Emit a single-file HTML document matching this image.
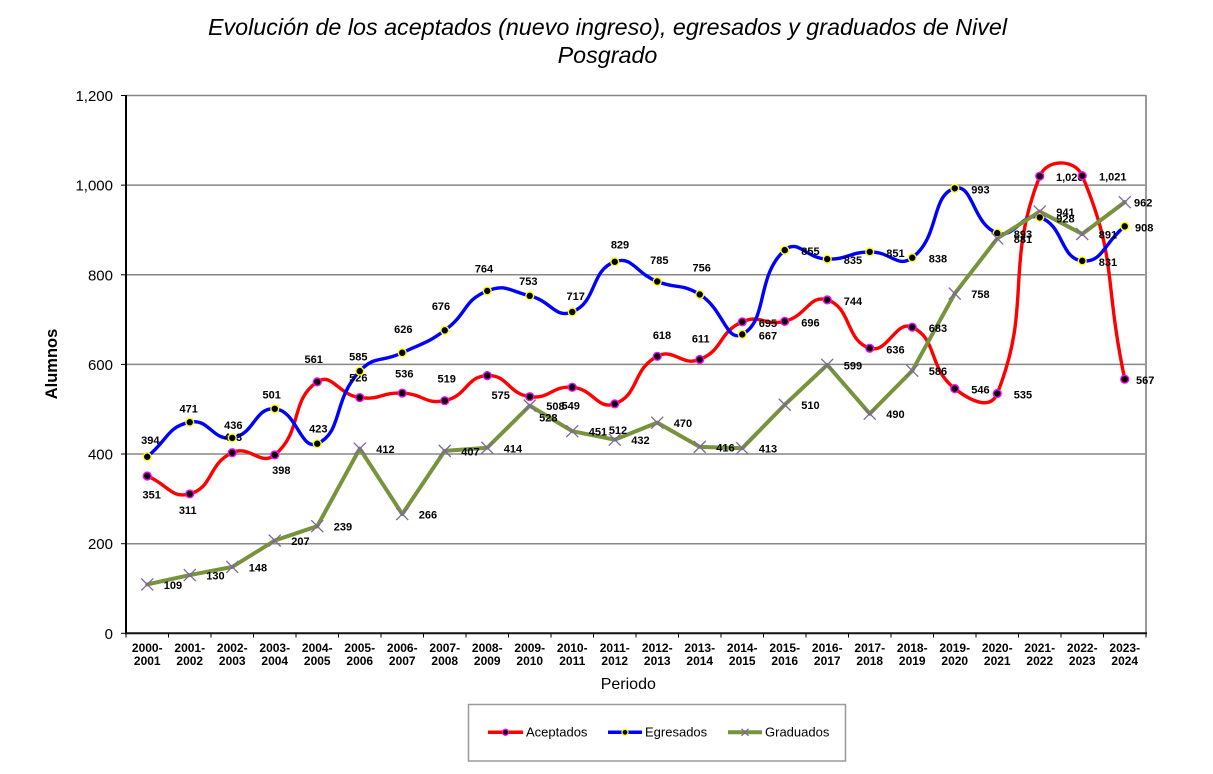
<!DOCTYPE html>
<html>
<head>
<meta charset="utf-8">
<style>
  html,body{margin:0;padding:0;background:#fff;}
  svg{display:block;}
  .lbl{font-family:"Liberation Sans",Arial,sans-serif;font-size:11px;font-weight:bold;fill:#000;}
  .cat{font-family:"Liberation Sans",Arial,sans-serif;font-size:12px;font-weight:bold;fill:#000;}
  .ytk{font-family:"Liberation Sans",Arial,sans-serif;font-size:15px;fill:#000;}
</style>
</head>
<body>
<svg width="1213" height="774" viewBox="0 0 1213 774" xmlns="http://www.w3.org/2000/svg">
  <defs>
    <marker id="mR" markerWidth="12" markerHeight="12" refX="6" refY="6" markerUnits="userSpaceOnUse" overflow="visible">
      <circle cx="6" cy="6" r="3.9" fill="#000" stroke="#ff00ff" stroke-width="1.4"/>
    </marker>
    <marker id="mB" markerWidth="12" markerHeight="12" refX="6" refY="6" markerUnits="userSpaceOnUse" overflow="visible">
      <circle cx="6" cy="6" r="3.9" fill="#000" stroke="#ffff00" stroke-width="1.4"/>
    </marker>
    <marker id="mG" markerWidth="14" markerHeight="14" refX="7" refY="7" markerUnits="userSpaceOnUse" overflow="visible">
      <path d="M1,1 L13,13 M13,1 L1,13" stroke="#8064a2" stroke-width="1.3" fill="none"/>
    </marker>
  </defs>

  <!-- Title -->
  <g font-family="Liberation Sans, Arial, sans-serif" font-style="italic" font-size="23.3" fill="#000" text-anchor="middle">
    <text x="607.5" y="35">Evolución de los aceptados (nuevo ingreso), egresados y graduados de Nivel</text>
    <text x="607.5" y="63">Posgrado</text>
  </g>

  <!-- Gridlines -->
  <g stroke="#878787" stroke-width="1.5">
    <line x1="126" y1="95.5" x2="1146" y2="95.5"/>
    <line x1="126" y1="185.15" x2="1146" y2="185.15"/>
    <line x1="126" y1="274.8" x2="1146" y2="274.8"/>
    <line x1="126" y1="364.4" x2="1146" y2="364.4"/>
    <line x1="126" y1="454.0" x2="1146" y2="454.0"/>
    <line x1="126" y1="543.7" x2="1146" y2="543.7"/>
  </g>
  <line x1="1146" y1="95" x2="1146" y2="634" stroke="#9a9a9a" stroke-width="2"/>

  <!-- Y ticks -->
  <g stroke="#000" stroke-width="1">
    <line x1="121" y1="95.5" x2="126" y2="95.5"/>
    <line x1="121" y1="185.15" x2="126" y2="185.15"/>
    <line x1="121" y1="274.8" x2="126" y2="274.8"/>
    <line x1="121" y1="364.4" x2="126" y2="364.4"/>
    <line x1="121" y1="454.0" x2="126" y2="454.0"/>
    <line x1="121" y1="543.7" x2="126" y2="543.7"/>
    <line x1="121" y1="633.3" x2="126" y2="633.3"/>
  </g>
  <!-- X ticks -->
  <g stroke="#000" stroke-width="1">
    <line x1="126" y1="633" x2="126" y2="637.5"/>
    <line x1="168.5" y1="633" x2="168.5" y2="637.5"/>
    <line x1="211" y1="633" x2="211" y2="637.5"/>
    <line x1="253.5" y1="633" x2="253.5" y2="637.5"/>
    <line x1="296" y1="633" x2="296" y2="637.5"/>
    <line x1="338.5" y1="633" x2="338.5" y2="637.5"/>
    <line x1="381" y1="633" x2="381" y2="637.5"/>
    <line x1="423.5" y1="633" x2="423.5" y2="637.5"/>
    <line x1="466" y1="633" x2="466" y2="637.5"/>
    <line x1="508.5" y1="633" x2="508.5" y2="637.5"/>
    <line x1="551" y1="633" x2="551" y2="637.5"/>
    <line x1="593.5" y1="633" x2="593.5" y2="637.5"/>
    <line x1="636" y1="633" x2="636" y2="637.5"/>
    <line x1="678.5" y1="633" x2="678.5" y2="637.5"/>
    <line x1="721" y1="633" x2="721" y2="637.5"/>
    <line x1="763.5" y1="633" x2="763.5" y2="637.5"/>
    <line x1="806" y1="633" x2="806" y2="637.5"/>
    <line x1="848.5" y1="633" x2="848.5" y2="637.5"/>
    <line x1="891" y1="633" x2="891" y2="637.5"/>
    <line x1="933.5" y1="633" x2="933.5" y2="637.5"/>
    <line x1="976" y1="633" x2="976" y2="637.5"/>
    <line x1="1018.5" y1="633" x2="1018.5" y2="637.5"/>
    <line x1="1061" y1="633" x2="1061" y2="637.5"/>
    <line x1="1103.5" y1="633" x2="1103.5" y2="637.5"/>
    <line x1="1146" y1="633" x2="1146" y2="637.5"/>
  </g>
  <!-- Axes -->
  <line x1="126" y1="95" x2="126" y2="634.3" stroke="#000" stroke-width="2"/>
  <line x1="125" y1="633.3" x2="1147" y2="633.3" stroke="#111" stroke-width="2"/>

  <!-- Y labels -->
  <g class="ytk" text-anchor="end">
    <text x="113" y="101">1,200</text>
    <text x="113" y="190.6">1,000</text>
    <text x="113" y="280.3">800</text>
    <text x="113" y="369.9">600</text>
    <text x="113" y="459.5">400</text>
    <text x="113" y="549.2">200</text>
    <text x="113" y="638.8">0</text>
  </g>

  <!-- Axis titles -->
  <text x="0" y="0" transform="translate(57,364) rotate(-90)" text-anchor="middle" font-family="Liberation Sans, Arial, sans-serif" font-weight="bold" font-size="16.5">Alumnos</text>
  <text x="628.3" y="689" text-anchor="middle" font-family="Liberation Sans, Arial, sans-serif" font-size="16">Periodo</text>

  <!-- Category labels -->
  <g class="cat" text-anchor="middle">
    <text x="147.25" y="652">2000-</text><text x="147.25" y="665">2001</text>
    <text x="189.75" y="652">2001-</text><text x="189.75" y="665">2002</text>
    <text x="232.25" y="652">2002-</text><text x="232.25" y="665">2003</text>
    <text x="274.75" y="652">2003-</text><text x="274.75" y="665">2004</text>
    <text x="317.25" y="652">2004-</text><text x="317.25" y="665">2005</text>
    <text x="359.75" y="652">2005-</text><text x="359.75" y="665">2006</text>
    <text x="402.25" y="652">2006-</text><text x="402.25" y="665">2007</text>
    <text x="444.75" y="652">2007-</text><text x="444.75" y="665">2008</text>
    <text x="487.25" y="652">2008-</text><text x="487.25" y="665">2009</text>
    <text x="529.75" y="652">2009-</text><text x="529.75" y="665">2010</text>
    <text x="572.25" y="652">2010-</text><text x="572.25" y="665">2011</text>
    <text x="614.75" y="652">2011-</text><text x="614.75" y="665">2012</text>
    <text x="657.25" y="652">2012-</text><text x="657.25" y="665">2013</text>
    <text x="699.75" y="652">2013-</text><text x="699.75" y="665">2014</text>
    <text x="742.25" y="652">2014-</text><text x="742.25" y="665">2015</text>
    <text x="784.75" y="652">2015-</text><text x="784.75" y="665">2016</text>
    <text x="827.25" y="652">2016-</text><text x="827.25" y="665">2017</text>
    <text x="869.75" y="652">2017-</text><text x="869.75" y="665">2018</text>
    <text x="912.25" y="652">2018-</text><text x="912.25" y="665">2019</text>
    <text x="954.75" y="652">2019-</text><text x="954.75" y="665">2020</text>
    <text x="997.25" y="652">2020-</text><text x="997.25" y="665">2021</text>
    <text x="1039.75" y="652">2021-</text><text x="1039.75" y="665">2022</text>
    <text x="1082.25" y="652">2022-</text><text x="1082.25" y="665">2023</text>
    <text x="1124.75" y="652">2023-</text><text x="1124.75" y="665">2024</text>
  </g>

  <!-- Series lines -->
  <path id="redLine" fill="none" stroke="#ff0000" stroke-width="3.4" stroke-linejoin="round" stroke-linecap="round"
    d="M147.25,475.99 L189.75,493.92 L232.25,452.69 L274.75,454.93 L317.25,381.88 L359.75,397.56 L402.25,393.08 L444.75,400.70 L487.25,375.60 L529.75,396.67 L572.25,387.25 L614.75,403.84 L657.25,356.33 L699.75,359.47 L742.25,321.82 L784.75,321.37 L827.25,299.86 L869.75,348.26 L912.25,327.20 L954.75,388.60 L997.25,393.53 L1039.75,176.17 L1082.25,175.72 L1124.75,379.19"/>
  <path id="blueLine" fill="none" stroke="#0000ff" stroke-width="3.4" stroke-linejoin="round" stroke-linecap="round"
    d="M147.25,456.72 L189.75,422.21 L232.25,437.90 L274.75,408.77 L317.25,443.72 L359.75,371.12 L402.25,352.75 L444.75,330.34 L487.25,290.90 L529.75,295.83 L572.25,311.96 L614.75,261.77 L657.25,281.49 L699.75,294.48 L742.25,334.37 L784.75,250.11 L827.25,259.08 L869.75,251.91 L912.25,257.73 L954.75,188.27 L997.25,233.08 L1039.75,217.40 L1082.25,260.87 L1124.75,226.36"/>
  <path id="greenLine" fill="none" stroke="#77933c" stroke-width="4" stroke-linejoin="round" stroke-linecap="round"
    d="M147.25,584.45 L189.75,575.04 L232.25,566.97 L274.75,540.53 L317.25,526.19 L359.75,448.65 L402.25,514.09 L444.75,450.89 L487.25,447.76 L529.75,405.63 L572.25,431.18 L614.75,439.69 L657.25,422.66 L699.75,446.86 L742.25,448.21 L784.75,404.73 L827.25,364.85 L869.75,413.70 L912.25,370.67 L954.75,293.59 L997.25,238.46 L1039.75,211.57 L1082.25,233.98 L1124.75,202.16"/>

  <!-- Data labels: Aceptados -->
  <g class="lbl" text-anchor="middle">
    <text x="151.7" y="498.3">351</text>
    <text x="187.7" y="514">311</text>
    <text x="233" y="441">403</text>
    <text x="281.3" y="474">398</text>
    <text x="313.7" y="363">561</text>
    <text x="358.3" y="381.3">526</text>
    <text x="404.3" y="377.3">536</text>
    <text x="446.7" y="382.3">519</text>
    <text x="500.7" y="399">575</text>
    <text x="548.3" y="421.3">528</text>
    <text x="570.7" y="409.7">549</text>
    <text x="618" y="434">512</text>
    <text x="662" y="339">618</text>
    <text x="700.7" y="342.3">611</text>
  </g>
  <g class="lbl">
    <text x="758.75" y="326.8">695</text>
    <text x="801.25" y="326.4">696</text>
    <text x="843.75" y="304.9">744</text>
    <text x="886.25" y="353.3">636</text>
    <text x="928.75" y="332.2">683</text>
    <text x="971.25" y="393.6">546</text>
    <text x="1013.75" y="398.5">535</text>
    <text x="1056" y="181.2">1,020</text>
    <text x="1099" y="180.7">1,021</text>
    <text x="1136" y="384.2">567</text>
  </g>
  <!-- Data labels: Egresados -->
  <g class="lbl" text-anchor="middle">
    <text x="150.3" y="444">394</text>
    <text x="188.7" y="412.3">471</text>
    <text x="233.3" y="429">436</text>
    <text x="271.7" y="398.7">501</text>
    <text x="318.3" y="432.3">423</text>
    <text x="358.3" y="360.7">585</text>
    <text x="403.3" y="333">626</text>
    <text x="441" y="310">676</text>
    <text x="484" y="272.3">764</text>
    <text x="528.3" y="285">753</text>
    <text x="575.7" y="300">717</text>
    <text x="620" y="248.3">829</text>
    <text x="659.3" y="264">785</text>
    <text x="701.7" y="271.7">756</text>
  </g>
  <g class="lbl">
    <text x="758.75" y="339.4">667</text>
    <text x="801.25" y="255.1">855</text>
    <text x="843.75" y="264.1">835</text>
    <text x="886.25" y="256.9">851</text>
    <text x="928.75" y="262.7">838</text>
    <text x="971.25" y="193.3">993</text>
    <text x="1013.75" y="238.1">893</text>
    <text x="1056.25" y="222.4">928</text>
    <text x="1098.75" y="265.9">831</text>
    <text x="1135" y="231.4">908</text>
  </g>
  <!-- Data labels: Graduados -->
  <g class="lbl">
    <text x="163.75" y="588.95">109</text>
    <text x="206.25" y="579.54">130</text>
    <text x="248.75" y="571.47">148</text>
    <text x="291.25" y="545.03">207</text>
    <text x="333.75" y="530.69">239</text>
    <text x="376.25" y="453.15">412</text>
    <text x="418.75" y="518.59">266</text>
    <text x="461.25" y="455.39">407</text>
    <text x="503.75" y="452.26">414</text>
    <text x="546.25" y="410.13">508</text>
    <text x="588.75" y="435.68">451</text>
    <text x="631.25" y="444.19">432</text>
    <text x="673.75" y="427.16">470</text>
    <text x="716.25" y="451.36">416</text>
    <text x="758.75" y="452.71">413</text>
    <text x="801.25" y="409.23">510</text>
    <text x="843.75" y="369.35">599</text>
    <text x="886.25" y="418.2">490</text>
    <text x="928.75" y="375.17">586</text>
    <text x="971.25" y="298.09">758</text>
    <text x="1013.75" y="242.96">881</text>
    <text x="1056.25" y="216.07">941</text>
    <text x="1098.75" y="238.48">891</text>
    <text x="1134" y="206.66">962</text>
  </g>

  <!-- Markers -->
  <path fill="none" stroke="none" marker-start="url(#mR)" marker-mid="url(#mR)" marker-end="url(#mR)"
    d="M147.25,475.99 L189.75,493.92 L232.25,452.69 L274.75,454.93 L317.25,381.88 L359.75,397.56 L402.25,393.08 L444.75,400.70 L487.25,375.60 L529.75,396.67 L572.25,387.25 L614.75,403.84 L657.25,356.33 L699.75,359.47 L742.25,321.82 L784.75,321.37 L827.25,299.86 L869.75,348.26 L912.25,327.20 L954.75,388.60 L997.25,393.53 L1039.75,176.17 L1082.25,175.72 L1124.75,379.19"/>
  <path fill="none" stroke="none" marker-start="url(#mB)" marker-mid="url(#mB)" marker-end="url(#mB)"
    d="M147.25,456.72 L189.75,422.21 L232.25,437.90 L274.75,408.77 L317.25,443.72 L359.75,371.12 L402.25,352.75 L444.75,330.34 L487.25,290.90 L529.75,295.83 L572.25,311.96 L614.75,261.77 L657.25,281.49 L699.75,294.48 L742.25,334.37 L784.75,250.11 L827.25,259.08 L869.75,251.91 L912.25,257.73 L954.75,188.27 L997.25,233.08 L1039.75,217.40 L1082.25,260.87 L1124.75,226.36"/>
  <path fill="none" stroke="none" marker-start="url(#mG)" marker-mid="url(#mG)" marker-end="url(#mG)"
    d="M147.25,584.45 L189.75,575.04 L232.25,566.97 L274.75,540.53 L317.25,526.19 L359.75,448.65 L402.25,514.09 L444.75,450.89 L487.25,447.76 L529.75,405.63 L572.25,431.18 L614.75,439.69 L657.25,422.66 L699.75,446.86 L742.25,448.21 L784.75,404.73 L827.25,364.85 L869.75,413.70 L912.25,370.67 L954.75,293.59 L997.25,238.46 L1039.75,211.57 L1082.25,233.98 L1124.75,202.16"/>

  <!-- Legend -->
  <rect x="468.5" y="704.5" width="377" height="56.5" fill="#fff" stroke="#9a9a9a" stroke-width="1.5"/>
  <line x1="488" y1="732.3" x2="523" y2="732.3" stroke="#ff0000" stroke-width="3.5"/>
  <circle cx="505.5" cy="732.3" r="3" fill="#000" stroke="#ff00ff" stroke-width="1.3"/>
  <line x1="608" y1="732.3" x2="642" y2="732.3" stroke="#0000ff" stroke-width="3.5"/>
  <circle cx="625" cy="732.3" r="3" fill="#000" stroke="#ffff00" stroke-width="1.3"/>
  <line x1="728" y1="732.3" x2="762" y2="732.3" stroke="#77933c" stroke-width="4"/>
  <path d="M741.5,728.8 L748.5,735.8 M748.5,728.8 L741.5,735.8" stroke="#8064a2" stroke-width="1.3"/>
  <g font-family="Liberation Sans, Arial, sans-serif" font-size="13" fill="#000">
    <text x="526" y="736.7">Aceptados</text>
    <text x="645" y="736.7">Egresados</text>
    <text x="765" y="736.7">Graduados</text>
  </g>
</svg>
<script>
(function(){
  function smooth(pts){
    var f=0.5, d="M"+pts[0][0]+","+pts[0][1];
    for(var i=0;i<pts.length-1;i++){
      var p0=pts[i-1]||pts[i], p1=pts[i], p2=pts[i+1], p3=pts[i+2]||pts[i+1];
      var d01=Math.hypot(p1[0]-p0[0],p1[1]-p0[1]);
      var d12=Math.hypot(p2[0]-p1[0],p2[1]-p1[1]);
      var d23=Math.hypot(p3[0]-p2[0],p3[1]-p2[1]);
      var a=(d01+d12)>0? f*d12/(d01+d12):0;
      var b=(d12+d23)>0? f*d12/(d12+d23):0;
      var c1=[p1[0]+a*(p2[0]-p0[0]), p1[1]+a*(p2[1]-p0[1])];
      var c2=[p2[0]-b*(p3[0]-p1[0]), p2[1]-b*(p3[1]-p1[1])];
      d+=" C"+c1[0].toFixed(2)+","+c1[1].toFixed(2)+" "+c2[0].toFixed(2)+","+c2[1].toFixed(2)+" "+p2[0]+","+p2[1];
    }
    return d;
  }
  ["redLine","blueLine"].forEach(function(id){
    var el=document.getElementById(id);
    var m=el.getAttribute("d").match(/[\d.]+,[\d.]+/g);
    var pts=m.map(function(s){var q=s.split(",");return [parseFloat(q[0]),parseFloat(q[1])];});
    el.setAttribute("d",smooth(pts));
  });
})();
</script>
</body>
</html>
